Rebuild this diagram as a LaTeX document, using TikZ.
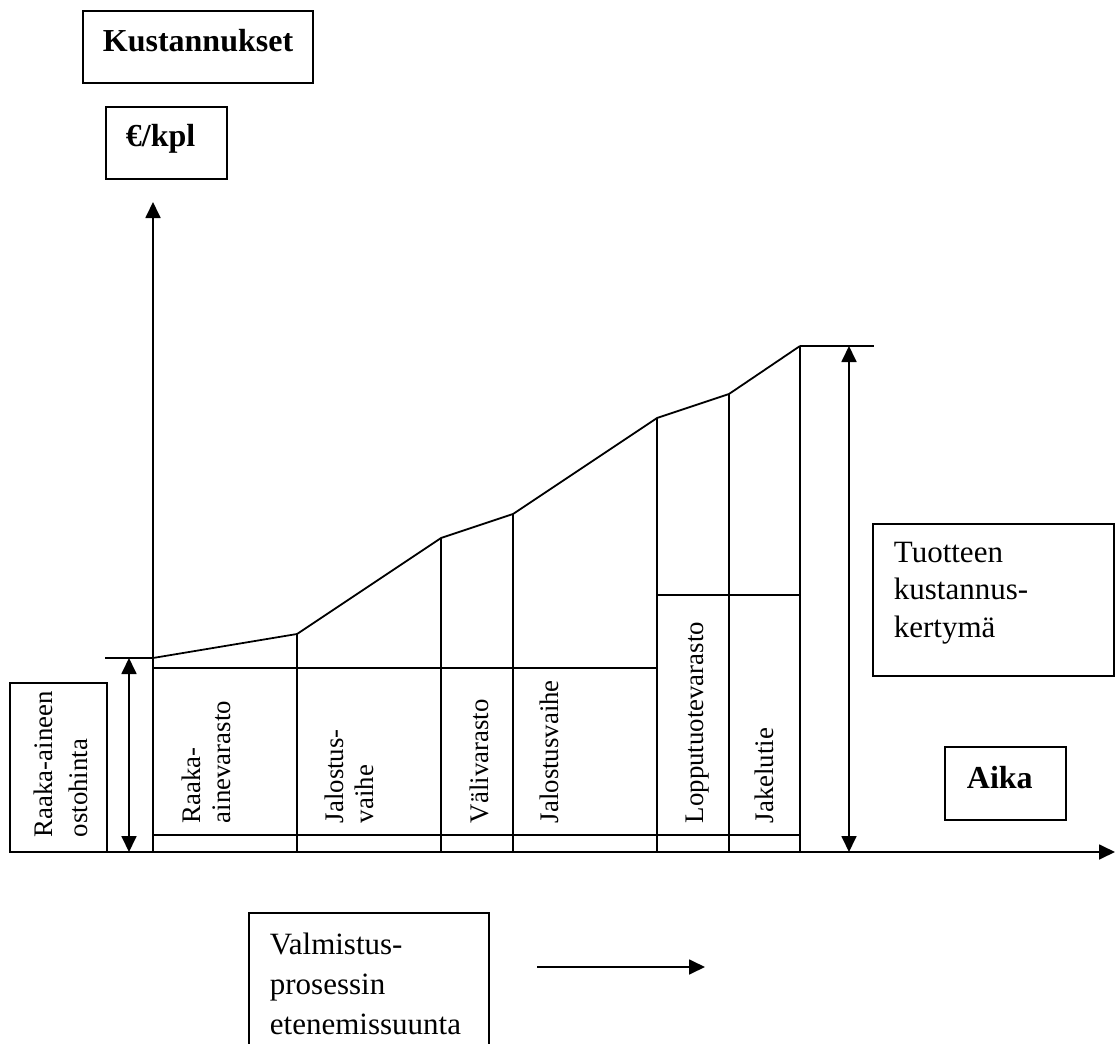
\documentclass[tikz,border=0pt]{standalone}
\usepackage{fontspec}
\setmainfont{Liberation Serif}
\usetikzlibrary{arrows.meta}

\begin{document}
\begin{tikzpicture}[x=0.5pt,y=-0.5pt,
  line width=0.9pt,
  tip/.style={-{Triangle[length=8pt,width=7.5pt]}},
  both/.style={{Triangle[length=8pt,width=7.5pt]}-{Triangle[length=8pt,width=7.5pt]}},
  frame/.style={draw, line width=1pt, inner sep=0pt, anchor=north west},
  htext/.style={anchor=base west, inner sep=0pt, font=\fontsize{15.5}{19}\selectfont},
  btext/.style={anchor=base west, inner sep=0pt, font=\fontsize{16}{19}\selectfont\bfseries},
  vtext/.style={anchor=base west, inner sep=0pt, rotate=90, font=\fontsize{13.4}{15}\selectfont},
]
\useasboundingbox (0,0) rectangle (1116,1044);
\clip (0,0) rectangle (1116,1044);

% title boxes
\node[frame, minimum width=115pt, minimum height=36pt] (kbox) at (82,10) {};
\node[btext] (klabel) at (102,52) {Kustannukset};
\node[frame, minimum width=60.5pt, minimum height=36pt] (ebox) at (105,106) {};
\node[btext] (elabel) at (125,147) {€/kpl};

% axes
\coordinate (o) at (153,852);
\coordinate (ytop) at (153,202);
\coordinate (xl) at (10,852);
\coordinate (xr) at (1115,852);
\draw[tip] (o) -- (ytop);
\draw[tip] (xl) -- (xr);

% cumulative cost curve
\coordinate (p0) at (153,658);
\coordinate (p1) at (297,634);
\coordinate (p2) at (441,538);
\coordinate (p3) at (513,514);
\coordinate (p4) at (657,418);
\coordinate (p5) at (729,394);
\coordinate (p6) at (800,346);
\draw (p0) -- (p1) -- (p2) -- (p3) -- (p4) -- (p5) -- (p6);
\foreach \p in {p1,p2,p3,p4,p5,p6} \draw (\p) -- (\p |- o);

% process stage boxes
\coordinate (s0) at (153,668);
\coordinate (s4) at (657,668);
\coordinate (t4) at (657,595);
\coordinate (t6) at (800,595);
\coordinate (r0) at (153,835);
\coordinate (r6) at (800,835);
\draw (s0) -- (s4);
\draw (t4) -- (t6);
\draw (r0) -- (r6);

\node[vtext] (v1a) at (200,824) {Raaka-};
\node[vtext] (v1b) at (230,824) {ainevarasto};
\node[vtext] (v2a) at (343,824) {Jalostus-};
\node[vtext] (v2b) at (373,824) {vaihe};
\node[vtext] (v3) at (488,824) {Välivarasto};
\node[vtext] (v4) at (558,824) {Jalostusvaihe};
\node[vtext] (v5) at (703,824) {Lopputuotevarasto};
\node[vtext] (v6) at (773,824) {Jakelutie};

% raw material price
\coordinate (q0) at (105,658);
\coordinate (qa) at (129,658);
\coordinate (qb) at (129,852);
\draw (q0) -- (p0);
\draw[both] (qa) -- (qb);
\node[frame, minimum width=48.5pt, minimum height=84.5pt] (rbox) at (9,682) {};
\node[vtext] (r1) at (53,838) {Raaka-aineen};
\node[vtext] (r2) at (87,838) {ostohinta};

% total accumulated cost
\coordinate (w0) at (874,346);
\coordinate (wa) at (849,346);
\coordinate (wb) at (849,852);
\draw (p6) -- (w0);
\draw[both] (wa) -- (wb);
\node[frame, minimum width=120.5pt, minimum height=76pt] (tbox) at (872,523) {};
\node[htext] (t1) at (893,562) {Tuotteen};
\node[htext] (t2) at (893,599) {kustannus-};
\node[htext] (t3) at (893,637) {kertymä};

% time label
\node[frame, minimum width=60.5pt, minimum height=36.5pt] (abox) at (944,746) {};
\node[btext] (alabel) at (966,788) {Aika};

% process direction
\node[frame, minimum width=120pt, minimum height=74pt] (mbox) at (248,912) {};
\node[htext] (m1) at (269,954) {Valmistus-};
\node[htext] (m2) at (269,994) {prosessin};
\node[htext] (m3) at (269,1034) {etenemissuunta};
\coordinate (d1) at (537,967);
\coordinate (d2) at (705,967);
\draw[tip] (d1) -- (d2);
\end{tikzpicture}
\end{document}
